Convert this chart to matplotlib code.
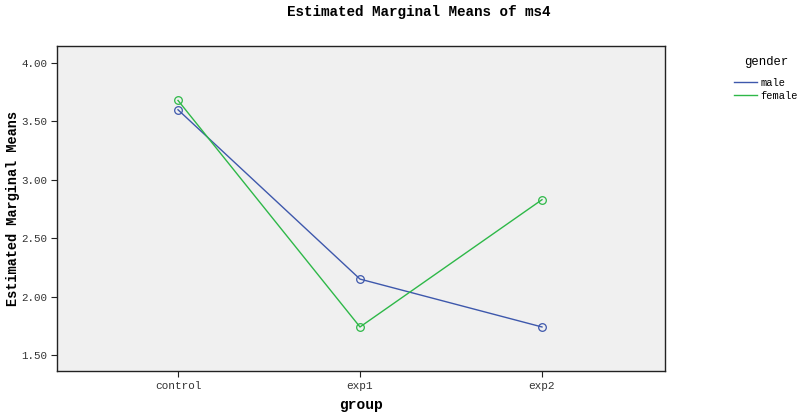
import numpy as np
import matplotlib.pyplot as plt

# Data
groups = ["control", "exp1", "exp2"]
male = [3.60, 2.15, 1.74]
female = [3.68, 1.74, 2.83]
y_ticks = [1.50, 2.00, 2.50, 3.00, 3.50, 4.00]

plt.rcParams['font.family'] = ['Liberation Mono', 'DejaVu Sans Mono']

fig = plt.figure(figsize=(8, 4.16), dpi=100)
ax = fig.add_axes([0.07125, 0.1082, 0.76, 0.7812])
ax.set_facecolor('#f0f0f0')

x = np.arange(len(groups))
ax.plot(x, male, color='#3e58ac', lw=1, marker='o', ms=5.5, mfc='none',
        mec='#3e58ac', mew=0.9, label='male')
ax.plot(x, female, color='#2eb848', lw=1, marker='o', ms=5.5, mfc='none',
        mec='#2eb848', mew=0.9, label='female')

ax.set_xlim(-0.665, 2.676)
ax.set_ylim(1.363, 4.146)
ax.set_xticks(x)
ax.set_xticklabels(groups, fontsize=8)
ax.set_yticks(y_ticks)
ax.set_yticklabels([f"{v:.2f}" for v in y_ticks], fontsize=7.8)
ax.tick_params(direction='out', length=4, width=0.8, pad=3, colors='#222222', labelcolor='#333333')
for s in ax.spines.values():
    s.set_linewidth(1.0)
    s.set_color('#222222')

ax.set_xlabel("group", fontsize=10.5, fontweight='bold', labelpad=5)
ax.set_ylabel("Estimated Marginal Means", fontsize=9.8, fontweight='bold')
ax.yaxis.set_label_coords(-0.0615, 0.5)
fig.text(0.524, 0.971, "Estimated Marginal Means of ms4", ha='center', va='center',
         fontsize=10.3, fontweight='bold')

leg = fig.legend(handles=ax.get_lines(), loc='upper left', bbox_to_anchor=(0.918, 0.865),
                 frameon=False, title='gender', fontsize=7.5, title_fontsize=8.8,
                 handlelength=2.2, handletextpad=0.3, labelspacing=0.3,
                 borderpad=0, borderaxespad=0)
leg._legend_box.sep = 7
for h in leg.legend_handles:
    h.set_marker('')

fig.savefig('out.png', dpi=100)
